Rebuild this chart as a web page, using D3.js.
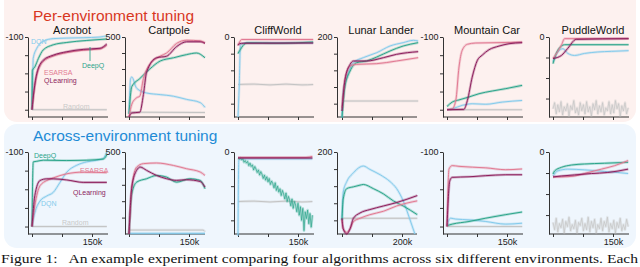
<!DOCTYPE html>
<html>
<head>
<meta charset="utf-8">
<script src="https://cdn.jsdelivr.net/npm/d3@7"></script>
<style>
  html, body { margin: 0; padding: 0; background: #fff; }
  svg { display: block; font-family: "Liberation Sans", Arial, sans-serif; }
</style>
</head>
<body>
<svg id="chart" width="640" height="267"></svg>
<script>
// ---- data (steps in thousands, returns per episode) ----
const envNames = ["Acrobot", "Cartpole", "CliffWorld", "Lunar Lander", "Mountain Car", "PuddleWorld"];
const yDomains = [[-540, -100], [0, 500], [-96, 0], [-280, 200], [-540, -100], [-78, 0]];
const yTicks = [
  [-100, -200, -300, -400, -500],
  [500, 400, 300, 200, 100],
  [0, -20, -40, -60, -80],
  [200, 100, 0, -100, -200],
  [-100, -200, -300, -400, -500],
  [0, -20, -40, -60]
];
const yTopLabels = ["-100", "500", "0", "200", "-100", "0"];
const xMax = [190, 190, 190, 255, 190, 190];
const xTicks = [[0, 75, 150], [0, 75, 150], [0, 75, 150], [0, 100, 200], [0, 75, 150], [0, 75, 150]];
const xLastLabels = ["150k", "150k", "150k", "200k", "150k", "150k"];
const seriesNames = ["Random", "DQN", "DeepQ", "ESARSA", "QLearning"];

// Per-environment tuning
const perAcrobot = {
  Random: [[0, -500], [187, -500]],
  DQN: [[0, -500], [2, -300], [3, -218], [12, -162], [28, -124], [53, -109], [87, -106], [128, -104], [170, -100], [187, -93]],
  DeepQ: [[0, -500], [1, -284], [7, -265], [16, -218], [28, -171], [53, -143], [87, -130], [137, -119], [187, -111]],
  ESARSA: [[0, -500], [5, -400], [12, -310], [28, -235], [53, -205], [87, -186], [128, -173], [170, -166], [187, -145]],
  QLearning: [[0, -500], [5, -395], [12, -300], [28, -228], [53, -200], [87, -181], [128, -168], [170, -162], [187, -138]]
};
const perCartpole = {
  Random: [[0, 30], [190, 28]],
  DQN: [[0, 20], [4, 240], [7, 250], [19, 180], [44, 150], [78, 140], [111, 130], [144, 110], [178, 90], [190, 60]],
  DeepQ: [[0, 20], [7, 190], [27, 240], [52, 300], [78, 350], [111, 370], [144, 390], [169, 400], [190, 370]],
  ESARSA: [[0, 0], [7, 80], [19, 120], [27, 130], [36, 240], [52, 330], [78, 380], [94, 400], [119, 460], [144, 480], [178, 476], [190, 464]],
  QLearning: [[0, 0], [7, 25], [27, 30], [36, 140], [44, 280], [69, 370], [94, 380], [119, 440], [144, 470], [178, 470], [190, 460]]
};
const perCliff = {
  Random: [[0, -57], [40, -56.5], [80, -57.5], [120, -56.5], [160, -57.5], [188, -57]],
  DQN: [[0, -96], [3, -60], [6, -10], [10, -8], [22, -7], [188, -7.2]],
  DeepQ: [[0, -20], [2, -18], [6, -15], [13, -10], [22, -7], [100, -7.5], [188, -6]],
  ESARSA: [[0, -10], [4, -6], [9, -3], [188, -3]],
  QLearning: [[0, -10], [4, -8], [13, -7.5], [188, -7.2]]
};
const perLunar = {
  Random: [[0, -184], [254, -184]],
  DQN: [[0, -284], [4, -124], [16, -44], [38, 46], [71, 76], [116, 106], [160, 146], [204, 166], [238, 180], [254, 176]],
  DeepQ: [[0, -284], [10, -96], [27, -4], [49, 46], [82, 56], [116, 80], [160, 116], [204, 146], [254, 166]],
  ESARSA: [[0, -224], [10, -56], [27, 26], [49, 36], [116, 40], [182, 56], [254, 76]],
  QLearning: [[0, -244], [10, -56], [27, 36], [38, 56], [82, 56], [138, 76], [182, 96], [254, 112]]
};
const perMountain = {
  Random: [[0, -500], [188, -500]],
  DQN: [[0, -500], [13, -495], [38, -476], [63, -467], [97, -470], [138, -458], [188, -449]],
  DeepQ: [[0, -482], [13, -458], [30, -446], [55, -430], [80, -412], [113, -397], [147, -384], [188, -366]],
  ESARSA: [[0, -500], [13, -495], [22, -449], [30, -265], [38, -173], [51, -140], [72, -133], [130, -131], [188, -128]],
  QLearning: [[0, -500], [42, -498], [51, -449], [63, -321], [76, -228], [88, -200], [105, -170], [130, -150], [155, -137], [188, -131]]
};
const perPuddle = {
  Random: [[0, -70], [4, -64], [8, -75], [12, -66], [16, -73], [20, -63], [24, -76], [28, -68], [32, -72], [36, -65], [40, -77], [44, -67], [48, -71], [52, -62], [56, -74], [60, -69], [64, -76], [68, -64], [72, -72], [76, -66], [80, -75], [84, -63], [88, -73], [92, -68], [96, -77], [100, -65], [104, -71], [108, -62], [112, -75], [116, -67], [120, -73], [124, -64], [128, -76], [132, -69], [136, -72], [140, -63], [144, -75], [148, -66], [152, -74], [156, -62], [160, -70], [164, -65], [168, -77], [172, -67], [176, -72], [180, -64], [184, -75], [188, -69]],
  DQN: [[0, -24], [12, -14.6], [25, -11.4], [37, -16], [54, -18], [79, -16], [112, -14.6], [146, -14], [189, -13.3]],
  DeepQ: [[0, -26], [8, -16], [21, -8.8], [29, -7.5], [189, -7.5]],
  ESARSA: [[0, -21], [12, -14], [21, -8], [29, -1.6], [189, -1.6]],
  QLearning: [[0, -21], [21, -18], [37, -11], [58, -2.3], [189, -1.6]]
};

// Across-environment tuning
const acrossAcrobot = {
  Random: [[0, -500], [187, -500]],
  DQN: [[0, -500], [7, -427], [20, -363], [37, -336], [53, -317], [70, -263], [87, -208], [112, -171], [137, -153], [162, -144], [178, -135], [187, -98]],
  DeepQ: [[0, -500], [3, -153], [12, -150], [28, -144], [87, -146], [137, -144], [178, -138], [187, -116]],
  ESARSA: [[0, -500], [7, -390], [20, -281], [37, -253], [53, -239], [87, -217], [128, -208], [187, -211]],
  QLearning: [[0, -500], [7, -335], [20, -253], [37, -244], [53, -244], [87, -250], [128, -263], [187, -263]]
};
const acrossCartpole = {
  Random: [[0, 24], [185, 24], [190, 15]],
  DQN: [[0, 4], [190, 4]],
  DeepQ: [[0, 0], [7, 245], [19, 316], [44, 337], [69, 357], [94, 347], [119, 316], [152, 337], [178, 327], [190, 276]],
  ESARSA: [[0, 0], [7, 286], [19, 408], [36, 429], [69, 433], [111, 418], [144, 398], [178, 378], [190, 357]],
  QLearning: [[0, 0], [7, 286], [19, 388], [28, 408], [44, 388], [69, 357], [94, 337], [119, 327], [144, 331], [178, 320], [190, 286]]
};
const acrossCliff = {
  Random: [[0, -58], [40, -57.5], [80, -58.5], [120, -57.5], [160, -58.5], [186, -58]],
  DQN: [[0, -98], [2, -10], [5, -8], [186, -8]],
  DeepQ: [[0, -7], [3, -8], [6, -7], [9, -9], [12, -8], [15, -12], [18, -10], [21, -13], [24, -11], [27, -16], [30, -13], [33, -17], [36, -15], [39, -21], [42, -17], [45, -20], [48, -24], [51, -21], [54, -27], [57, -23], [60, -26], [63, -31], [66, -27], [69, -33], [72, -29], [75, -35], [78, -31], [81, -38], [84, -34], [87, -37], [90, -42], [93, -36], [96, -45], [99, -40], [102, -47], [105, -43], [108, -51], [111, -45], [114, -49], [117, -55], [120, -48], [123, -58], [126, -52], [129, -56], [132, -63], [135, -55], [138, -66], [141, -58], [144, -62], [147, -70], [150, -60], [153, -74], [156, -64], [159, -80], [162, -66], [165, -92], [168, -70], [171, -78], [174, -68], [177, -84], [180, -72], [183, -88], [186, -74]],
  ESARSA: [[0, -6.3], [170, -6.3], [186, -5.1]],
  QLearning: [[0, -7], [186, -7]]
};
const acrossLunar = {
  Random: [[0, -188], [251, -188]],
  DQN: [[0, -198], [4, -35], [16, 27], [38, 78], [60, 112], [71, 118], [93, 98], [127, 67], [160, 27], [182, -14], [204, -86], [227, -198], [243, -280]],
  DeepQ: [[0, -198], [4, -76], [16, -14], [38, -4], [60, 6], [71, 10], [104, -14], [138, -45], [171, -86], [204, -116], [251, -167]],
  ESARSA: [[0, -198], [4, -249], [16, -270], [27, -249], [38, -208], [60, -188], [93, -167], [138, -147], [182, -116], [251, -86]],
  QLearning: [[0, -188], [4, -249], [16, -280], [27, -249], [38, -188], [60, -157], [93, -137], [138, -116], [182, -96], [251, -55]]
};
const acrossMountain = {
  Random: [[0, -500], [188, -500]],
  DQN: [[0, -495], [9, -455], [22, -460], [55, -464], [97, -473], [147, -487], [188, -482]],
  DeepQ: [[0, -495], [13, -487], [55, -473], [97, -455], [147, -436], [188, -422]],
  ESARSA: [[0, -500], [5, -191], [13, -173], [30, -177], [97, -185], [147, -195], [188, -191]],
  QLearning: [[0, -500], [7, -255], [13, -236], [55, -233], [97, -227], [147, -222], [188, -222]]
};
const acrossPuddle = {
  Random: [[0, -67], [4, -74], [8, -63], [12, -76], [16, -68], [20, -72], [24, -64], [28, -77], [32, -66], [36, -71], [40, -62], [44, -75], [48, -69], [52, -73], [56, -65], [60, -77], [64, -67], [68, -70], [72, -63], [76, -75], [80, -68], [84, -74], [88, -62], [92, -76], [96, -66], [100, -72], [104, -64], [108, -77], [112, -69], [116, -73], [120, -63], [124, -75], [128, -66], [132, -71], [136, -62], [140, -76], [144, -68], [148, -73], [152, -65], [156, -77], [160, -67], [164, -72], [168, -63], [172, -75], [176, -69], [180, -74], [184, -64], [188, -71]],
  DQN: [[0, -22.8], [12, -18], [37, -16.3], [79, -17], [129, -18.5], [162, -19.5], [188, -20.5]],
  DeepQ: [[0, -21], [4, -18], [21, -14.6], [46, -12.4], [79, -11.4], [129, -10.7], [188, -9.8]],
  ESARSA: [[0, -23.7], [21, -23.7], [54, -22.8], [88, -19.5], [121, -16.3], [154, -13], [188, -8.1]],
  QLearning: [[0, -23.7], [21, -22.8], [54, -21.8], [96, -20.5], [137, -19.5], [188, -16.3]]
};

const perEnv = [perAcrobot, perCartpole, perCliff, perLunar, perMountain, perPuddle];
const acrossEnv = [acrossAcrobot, acrossCartpole, acrossCliff, acrossLunar, acrossMountain, acrossPuddle];

// ---- layout / style ----
const colors = { Random: "#c4c4c4", DQN: "#84cbec", DeepQ: "#2ca58b", ESARSA: "#e27a93", QLearning: "#8d1f5d" };
const axisLeftX = [28, 125, 234, 337, 443, 549];
const rows = [
  { data: perEnv, top: 37, bottom: 117, title: "Per-environment tuning", titleY: 21, titleColor: "#d8371f",
    bg: "#fdf1ef", bgY: -14, bgH: 136, titles: true, xLabels: false },
  { data: acrossEnv, top: 152, bottom: 234, title: "Across-environment tuning", titleY: 141, titleColor: "#1e8bd6",
    bg: "#eff6fd", bgY: 124, bgH: 124, titles: false, xLabels: true }
];

const svg = d3.select("#chart");

rows.forEach((row, r) => {
  svg.append("rect")
    .attr("x", 4).attr("y", row.bgY)
    .attr("width", 632).attr("height", row.bgH)
    .attr("rx", 13)
    .attr("fill", row.bg);

  svg.append("text")
    .attr("x", 33).attr("y", row.titleY)
    .attr("font-size", 15.5)
    .attr("fill", row.titleColor)
    .text(row.title);

  envNames.forEach((name, i) => {
    const x0 = axisLeftX[i];
    const pxPerK = i === 3 ? 0.3 : 0.4;
    const xStart = x0 + (i === 3 ? 5 : 4);
    const x = d3.scaleLinear().domain([0, xMax[i]]).range([xStart, xStart + pxPerK * xMax[i]]);
    const y = d3.scaleLinear().domain(yDomains[i]).range([row.bottom, row.top]);
    const g = svg.append("g");

    if (row.titles) {
      g.append("text")
        .attr("x", x0 + 44).attr("y", 34)
        .attr("text-anchor", "middle")
        .attr("font-size", 11)
        .attr("fill", "#111")
        .text(name);
    }

    // y axis
    const yAxis = d3.axisLeft(y)
      .tickValues(yTicks[i])
      .tickSize(3).tickSizeOuter(0)
      .tickPadding(1.5)
      .tickFormat((d, k) => (k === 0 ? yTopLabels[i] : ""));
    const gy = g.append("g").attr("transform", `translate(${x0},0)`).call(yAxis);
    gy.selectAll("text").attr("font-size", 9).attr("fill", "#222").attr("font-family", "Liberation Sans, Arial, sans-serif");

    // x axis
    const xAxis = d3.axisBottom(x)
      .tickValues(xTicks[i])
      .tickSize(3).tickSizeOuter(0)
      .tickPadding(2)
      .tickFormat((d, k) => (row.xLabels && k === xTicks[i].length - 1 ? xLastLabels[i] : ""));
    const gx = g.append("g").attr("transform", `translate(0,${row.bottom})`).call(xAxis);
    gx.select(".domain").remove();
    gx.selectAll("text").attr("font-size", 9).attr("fill", "#222").attr("font-family", "Liberation Sans, Arial, sans-serif");
    g.append("line")
      .attr("x1", x0).attr("x2", x0 + 80)
      .attr("y1", row.bottom).attr("y2", row.bottom)
      .attr("stroke", "#333").attr("stroke-width", 1);
    g.selectAll(".domain, .tick line").attr("stroke", "#333");

    // series
    const smooth = d3.line().x(d => x(d[0])).y(d => y(d[1])).curve(d3.curveMonotoneX);
    const jagged = d3.line().x(d => x(d[0])).y(d => y(d[1]));
    const envData = row.data[i];
    seriesNames.forEach(s => {
      const pts = envData[s];
      const noisy = pts.length > 30;
      const path = noisy ? jagged(pts) : smooth(pts);
      g.append("path")
        .attr("d", path)
        .attr("fill", "none")
        .attr("stroke", colors[s])
        .attr("stroke-opacity", 0.3)
        .attr("stroke-width", noisy ? 2.6 : 2.6)
        .attr("stroke-linejoin", "round");
      g.append("path")
        .attr("d", path)
        .attr("fill", "none")
        .attr("stroke", colors[s])
        .attr("stroke-width", noisy ? 0.7 : 1)
        .attr("stroke-linejoin", "round");
    });
  });
});

// series labels in the Acrobot panels
const labelFont = 7;
const topLabels = [
  { s: "DQN", dx: 3, y: 43.5 },
  { s: "DeepQ", dx: 54, y: 67.5 },
  { s: "ESARSA", dx: 16, y: 75 },
  { s: "QLearning", dx: 16, y: 83 },
  { s: "Random", dx: 35, y: 108.5 }
];
const bottomLabels = [
  { s: "DeepQ", dx: 6, y: 157.5 },
  { s: "ESARSA", dx: 52, y: 172.5 },
  { s: "QLearning", dx: 45, y: 194.5 },
  { s: "DQN", dx: 13, y: 205.5 },
  { s: "Random", dx: 34, y: 224.5 }
];
[topLabels, bottomLabels].forEach(list => {
  list.forEach(l => {
    svg.append("text")
      .attr("x", axisLeftX[0] + l.dx).attr("y", l.y)
      .attr("font-size", labelFont)
      .attr("fill", l.s === "Random" ? "#c9c9c9" : colors[l.s])
      .text(l.s);
  });
});
svg.append("line")
  .attr("x1", 90).attr("x2", 90).attr("y1", 47).attr("y2", 61)
  .attr("stroke", colors.DeepQ).attr("stroke-width", 0.9);

// caption
svg.append("text")
  .attr("x", 1).attr("y", 263)
  .attr("font-family", "Liberation Serif, Times New Roman, serif")
  .attr("font-size", 13)
  .attr("fill", "#111")
  .attr("textLength", 637)
  .attr("lengthAdjust", "spacingAndGlyphs")
  .attr("xml:space", "preserve")
  .text("Figure 1:   An example experiment comparing four algorithms across six different environments. Each");
</script>
</body>
</html>
